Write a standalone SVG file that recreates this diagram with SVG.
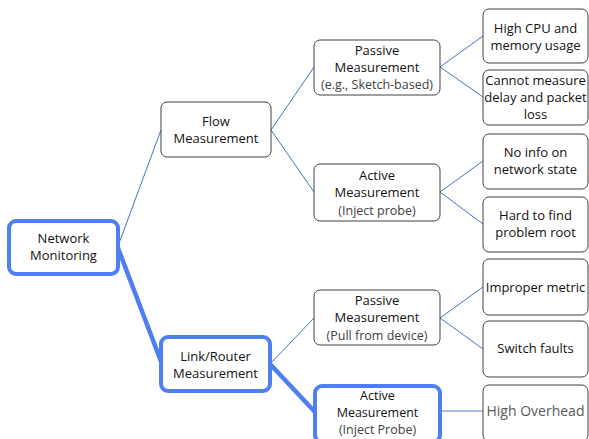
<svg xmlns="http://www.w3.org/2000/svg" width="589" height="439" viewBox="0 0 589 439">
<defs>
<style>
.box{fill:#fff;stroke:#404040;stroke-width:1}
.hl{fill:#fff;stroke:#4d7ef2;stroke-width:4}
.t{font-family:"Open Sans","Liberation Sans",sans-serif;font-size:13px;fill:#111;text-anchor:middle}
.s{font-family:"Open Sans","Liberation Sans",sans-serif;font-size:12.5px;fill:#404040;text-anchor:middle}
.sm{font-size:12.5px}
.big{font-family:"Open Sans","Liberation Sans",sans-serif;font-size:14px;fill:#595959;text-anchor:middle}
.c{stroke:#4472c4;stroke-width:1;fill:none}
.ch{stroke:#4d7ef2;stroke-width:4.5;fill:none}
.cl{stroke:#8eaadb;stroke-width:1.5;fill:none}
</style>
</defs>
<rect width="589" height="439" fill="#fff"/>
<g id="connectors">
<line class="c" x1="118" y1="246" x2="161" y2="130"/>
<line class="ch" x1="118" y1="248" x2="162" y2="364"/>
<line class="c" x1="271" y1="130" x2="314" y2="67"/>
<line class="c" x1="271" y1="130" x2="314" y2="192"/>
<line class="c" x1="270" y1="364" x2="314" y2="318"/>
<line class="ch" x1="270" y1="364" x2="315" y2="412"/>
<line class="c" x1="440" y1="67" x2="483" y2="36"/>
<line class="c" x1="440" y1="67" x2="483" y2="97"/>
<line class="c" x1="440" y1="192" x2="483" y2="161"/>
<line class="c" x1="440" y1="192" x2="483" y2="224"/>
<line class="c" x1="440" y1="318" x2="483" y2="287"/>
<line class="c" x1="440" y1="318" x2="483" y2="349"/>
<line class="cl" x1="440" y1="411" x2="483" y2="411"/>
</g>
<g id="n-network">
<rect class="hl" x="9" y="221" width="109" height="53" rx="7"/>
<text class="t" x="63.5" y="243">Network</text>
<text class="t" x="63.5" y="260">Monitoring</text>
</g>
<g id="n-flow">
<rect class="box" x="161" y="102" width="110" height="55" rx="6"/>
<text class="t" x="216" y="126">Flow</text>
<text class="t" x="216" y="143">Measurement</text>
</g>
<g id="n-link">
<rect class="hl" x="161" y="337" width="109" height="54" rx="7"/>
<text class="t" x="215.5" y="361">Link/Router</text>
<text class="t" x="215.5" y="378">Measurement</text>
</g>
<g id="n-passive1">
<rect class="box" x="314" y="40" width="126" height="55" rx="6"/>
<text class="t" x="377" y="55">Passive</text>
<text class="t" x="377" y="72">Measurement</text>
<text class="s" x="377" y="89">(e.g., Sketch-based)</text>
</g>
<g id="n-active1">
<rect class="box" x="314" y="164" width="126" height="57" rx="6"/>
<text class="t" x="377" y="180">Active</text>
<text class="t" x="377" y="197">Measurement</text>
<text class="s" x="377" y="215">(Inject probe)</text>
</g>
<g id="n-passive2">
<rect class="box" x="314" y="290" width="126" height="55" rx="6"/>
<text class="t" x="377" y="305">Passive</text>
<text class="t" x="377" y="322">Measurement</text>
<text class="s" x="377" y="340">(Pull from device)</text>
</g>
<g id="n-active2">
<rect class="hl" x="315" y="386" width="125" height="56" rx="7"/>
<text class="t sm" x="377.5" y="400">Active</text>
<text class="t sm" x="377.5" y="417">Measurement</text>
<text class="s" x="377.5" y="434">(Inject Probe)</text>
</g>
<g id="n-highcpu">
<rect class="box" x="483" y="9" width="105" height="54" rx="6"/>
<text class="t" x="535.5" y="33">High CPU and</text>
<text class="t" x="535.5" y="50">memory usage</text>
</g>
<g id="n-cannot">
<rect class="box" x="483" y="70" width="105" height="55" rx="6"/>
<text class="t" x="535.5" y="85">Cannot measure</text>
<text class="t" x="535.5" y="102">delay and packet</text>
<text class="t" x="535.5" y="119">loss</text>
</g>
<g id="n-noinfo">
<rect class="box" x="483" y="134" width="105" height="55" rx="6"/>
<text class="t" x="535.5" y="157">No info on</text>
<text class="t" x="535.5" y="174">network state</text>
</g>
<g id="n-hard">
<rect class="box" x="483" y="197" width="105" height="55" rx="6"/>
<text class="t" x="535.5" y="220">Hard to find</text>
<text class="t" x="535.5" y="237">problem root</text>
</g>
<g id="n-improper">
<rect class="box" x="483" y="259" width="105" height="56" rx="6"/>
<text class="t" x="535.5" y="292">Improper metric</text>
</g>
<g id="n-switch">
<rect class="box" x="483" y="321" width="105" height="56" rx="6"/>
<text class="t" x="535.5" y="353">Switch faults</text>
</g>
<g id="n-overhead">
<rect class="box" x="483" y="385" width="105" height="56" rx="6"/>
<text class="big" x="535.5" y="416">High Overhead</text>
</g>
</svg>
